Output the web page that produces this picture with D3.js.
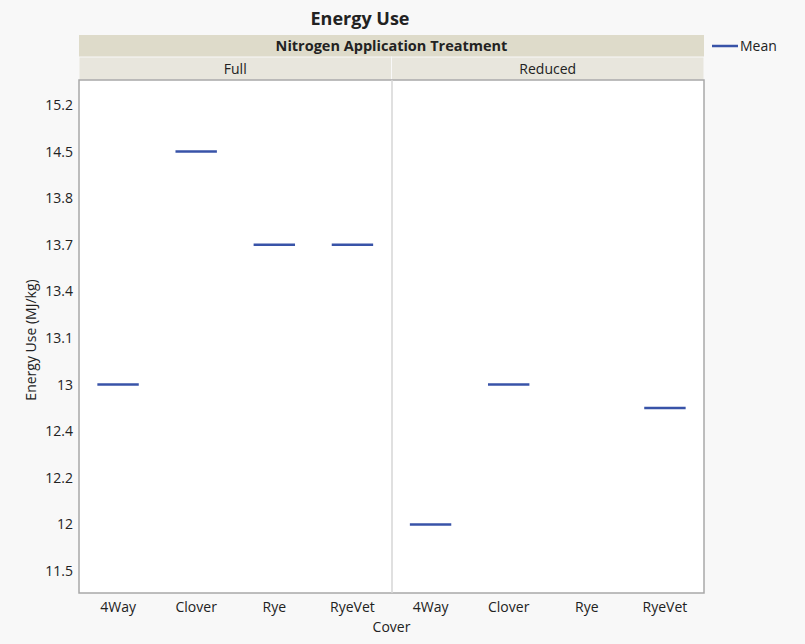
<!DOCTYPE html>
<html lang="en">
<head>
    <meta charset="utf-8">
    <title>Energy Use</title>
    <script type="text/javascript" src="https://d3js.org/d3.v7.min.js"></script>
    <style>
        body { margin: 0; background: #f8f8f8; }
        svg text { font-family: "Open Sans", "Noto Sans", sans-serif; fill: #222; }
    </style>
</head>
<body>
    <div id="chart"></div>
    <script type="text/javascript">
        // data
        const panels = ["Full", "Reduced"];
        const covers = ["4Way", "Clover", "Rye", "RyeVet"];
        const fullMeans = [13, 14.5, 13.7, 13.7];
        const reducedMeans = [12, 13, null, 12.7];
        const yTicks = [11.5, 12, 12.2, 12.4, 13, 13.1, 13.4, 13.7, 13.8, 14.5, 15.2];

        const width = 805;
        const height = 644;
        const plotLeft = 79, plotRight = 704, plotTop = 80, plotBottom = 593;
        const mid = 392;

        const svg = d3.select("#chart")
            .append("svg")
            .attr("width", width)
            .attr("height", height);

        svg.append("rect").attr("width", width).attr("height", height).attr("fill", "#f8f8f8");

        // title
        svg.append("text")
            .attr("x", 360).attr("y", 25)
            .attr("text-anchor", "middle")
            .style("font-size", "18px").style("font-weight", "bold")
            .text("Energy Use");

        // header bands
        svg.append("rect").attr("x", plotLeft).attr("y", 35).attr("width", plotRight - plotLeft).attr("height", 22)
            .attr("fill", "#dedbca");
        svg.append("text").attr("x", (plotLeft + plotRight) / 2).attr("y", 51)
            .attr("text-anchor", "middle").style("font-size", "14.5px").style("font-weight", "bold")
            .text("Nitrogen Application Treatment");

        const panelX = d3.scaleBand().domain(panels).range([plotLeft, plotRight]);

        svg.selectAll(".hdr")
            .data(panels)
            .enter()
            .append("rect")
                .attr("class", "hdr")
                .attr("x", d => panelX(d))
                .attr("y", 57)
                .attr("width", panelX.bandwidth())
                .attr("height", plotTop - 57)
                .attr("fill", "#e8e6dd")
                .attr("stroke", "#f8f8f8")
                .attr("stroke-width", 1);

        svg.selectAll(".hdrtxt")
            .data(panels)
            .enter()
            .append("text")
                .attr("x", d => panelX(d) + panelX.bandwidth() / 2)
                .attr("y", 74)
                .attr("text-anchor", "middle")
                .style("font-size", "14px")
                .text(d => d);

        // plot area
        svg.append("rect").attr("x", plotLeft).attr("y", plotTop).attr("width", plotRight - plotLeft).attr("height", plotBottom - plotTop)
            .attr("fill", "white").attr("stroke", "#a8a8a8").attr("stroke-width", 1.5);
        svg.append("line").attr("x1", mid).attr("x2", mid).attr("y1", plotTop).attr("y2", plotBottom)
            .attr("stroke", "#d6d6d6").attr("stroke-width", 1.5);

        // y scale: evenly spaced ticks
        const yTop = 105, yBot = 571;
        const y = d3.scaleLinear()
            .domain(yTicks)
            .range(yTicks.map((d, i) => yBot - i * (yBot - yTop) / (yTicks.length - 1)));

        svg.append("g")
            .attr("transform", `translate(${plotLeft - 2},0)`)
            .call(d3.axisLeft(y).tickValues(yTicks).tickSize(0).tickFormat(d => d))
            .call(g => g.select(".domain").remove())
            .call(g => g.selectAll("text").style("font-size", "14px").attr("dx", "-1"));

        svg.append("text")
            .attr("transform", "translate(36,340) rotate(-90)")
            .attr("text-anchor", "middle")
            .style("font-size", "14px")
            .text("Energy Use (MJ/kg)");

        // x axes per panel
        panels.forEach((p, pi) => {
            const x = d3.scaleBand().domain(covers).range([panelX(p), panelX(p) + panelX.bandwidth()]);
            svg.append("g")
                .attr("transform", `translate(0,${plotBottom + 2})`)
                .call(d3.axisBottom(x).tickSize(0))
                .call(g => g.select(".domain").remove())
                .call(g => g.selectAll("text").style("font-size", "14px").attr("dy", "1em"));

            const vals = pi === 0 ? fullMeans : reducedMeans;
            const data = covers.map((c, i) => ({ cover: c, value: vals[i] })).filter(d => d.value !== null);
            const half = x.bandwidth() * 0.265;
            svg.append("g")
                .selectAll("line")
                .data(data)
                .enter()
                .append("line")
                    .attr("x1", d => x(d.cover) + x.bandwidth() / 2 - half)
                    .attr("x2", d => x(d.cover) + x.bandwidth() / 2 + half)
                    .attr("y1", d => y(d.value))
                    .attr("y2", d => y(d.value))
                    .attr("stroke", "#3853a8")
                    .attr("stroke-width", 2.5);
        });

        svg.append("text")
            .attr("x", (plotLeft + plotRight) / 2).attr("y", 632)
            .attr("text-anchor", "middle")
            .style("font-size", "14px")
            .text("Cover");

        // legend
        svg.append("line").attr("x1", 712).attr("x2", 738).attr("y1", 46).attr("y2", 46)
            .attr("stroke", "#3853a8").attr("stroke-width", 2.5);
        svg.append("text").attr("x", 740).attr("y", 51).style("font-size", "14px").text("Mean");
    </script>
</body>
</html>
